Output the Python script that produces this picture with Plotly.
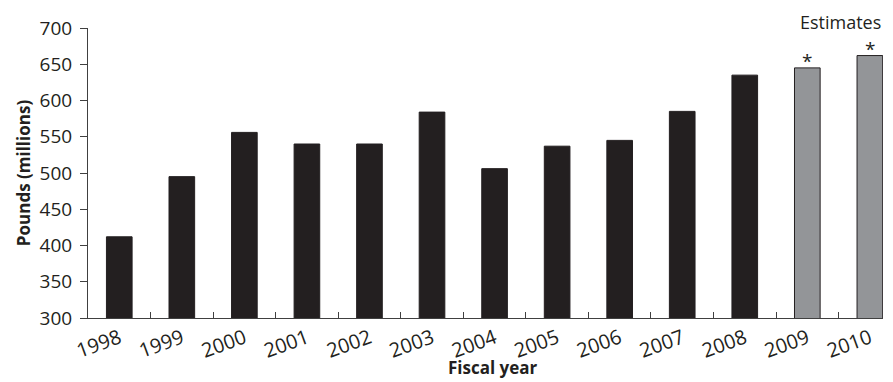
import plotly.graph_objects as go

years = ["1998", "1999", "2000", "2001", "2002", "2003", "2004",
         "2005", "2006", "2007", "2008", "2009", "2010"]
pounds = [412, 495, 556, 540, 540, 584, 506, 537, 545, 585, 635, 645, 662]
is_estimate = [False] * 11 + [True, True]

ACTUAL = "#231f20"
EST = "#939598"
FONT = "Open Sans"

colors = [EST if e else ACTUAL for e in is_estimate]
line_colors = ["#231f20" if e else ACTUAL for e in is_estimate]

fig = go.Figure()
fig.add_trace(go.Bar(
    x=years, y=pounds, width=0.41,
    marker=dict(color=colors, line=dict(color=line_colors, width=1)),
    hoverinfo="x+y",
))

for i, (v, e) in enumerate(zip(pounds, is_estimate)):
    if e:
        fig.add_annotation(x=i, y=v, xref="x", yref="y", text="*",
                           showarrow=False, yanchor="bottom", yshift=-8,
                           font=dict(family=FONT, size=19, color="#231f20"))

fig.add_annotation(x=1, xref="paper", xanchor="right", y=700, yref="y",
                   yanchor="bottom", yshift=-8, text="Estimates", showarrow=False,
                   font=dict(family=FONT, size=18, color="#231f20"))

fig.add_annotation(x=0.51, xref="paper", y=-0.125, yref="paper", yanchor="top",
                   text="<b>Fiscal year</b>", showarrow=False,
                   font=dict(family=FONT, size=17, color="#231f20"))

fig.update_layout(
    width=893, height=382,
    margin=dict(l=88, r=10, t=28, b=64),
    paper_bgcolor="white", plot_bgcolor="white",
    showlegend=False,
    font=dict(family=FONT, color="#231f20"),
)

fig.update_xaxes(
    type="category", range=[-0.5, 12.21],
    tickson="boundaries", ticks="inside", ticklen=6, tickcolor="#404040",
    tickangle=-20, tickfont=dict(family=FONT, size=20, color="#231f20"),
    showline=True, linecolor="#404040", linewidth=1,
    showgrid=False, zeroline=False,
)
fig.update_yaxes(
    range=[300, 700], dtick=50, tick0=300,
    ticks="outside", ticklen=7, tickcolor="#404040",
    tickfont=dict(family=FONT, size=19, color="#231f20"),
    ticklabelstandoff=4,
    showline=True, linecolor="#404040", linewidth=1,
    showgrid=False, zeroline=False,
    title=dict(text="<b>Pounds (millions)</b>", standoff=4,
               font=dict(family=FONT, size=17, color="#231f20")),
)

fig.write_html("out.html")
